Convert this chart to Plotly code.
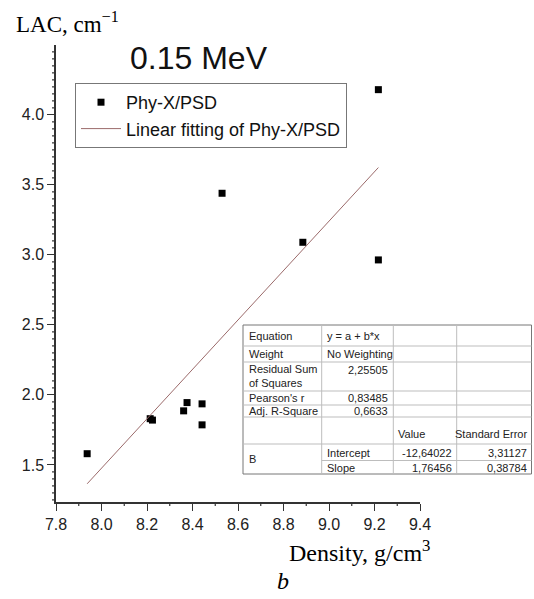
import numpy as np
import plotly.graph_objects as go

# ---- data ----
density = [7.937, 8.214, 8.224, 8.361, 8.376, 8.442, 8.442, 8.530, 8.885, 9.217, 9.217]
lac = [1.580, 1.830, 1.820, 1.886, 1.945, 1.936, 1.786, 3.440, 3.090, 4.180, 2.964]
fit_intercept = -12.64022
fit_slope = 1.76456

table_rows = [
    ("Equation", "y = a + b*x", "", ""),
    ("Weight", "No Weighting", "", ""),
    ("Residual Sum<br>of Squares", "2,25505", "", ""),
    ("Pearson's r", "0,83485", "", ""),
    ("Adj. R-Square", "0,6633", "", ""),
    ("", "", "Value", "Standard Error"),
    ("B", "Intercept", "-12,64022", "3,31127"),
    ("", "Slope", "1,76456", "0,38784"),
]

X_RANGE = [7.8, 9.4]
Y_RANGE = [1.235, 4.499]

# ---- layout geometry (pixels) ----
W, Hh = 534, 599
L, R, T, B = 56, 420, 45, 502


def px(x):
    return (x - L) / (R - L)


def py(y):
    return (B - y) / (B - T)


fx = np.array([min(density), max(density)])
fy = fit_intercept + fit_slope * fx

fig = go.Figure()
fig.add_trace(go.Scatter(
    x=density, y=lac, mode="markers", name="Phy-X/PSD",
    marker=dict(symbol="square", size=7, color="black"),
))
fig.add_trace(go.Scatter(
    x=fx, y=fy, mode="lines", name="Linear fitting of Phy-X/PSD",
    line=dict(color="#9b6a6a", width=1),
))

axis_font = dict(family="Liberation Sans, Arial", size=16, color="#222")
fig.update_xaxes(
    range=X_RANGE, tickmode="linear", tick0=7.8, dtick=0.2, tickformat=".1f",
    showline=True, linecolor="#333", linewidth=1.5, mirror=False,
    ticks="outside", ticklen=7, tickcolor="#333", tickwidth=1.3,
    showgrid=False, zeroline=False, tickfont=axis_font,
)
fig.update_yaxes(
    range=Y_RANGE, tickmode="linear", tick0=0, dtick=0.5, tickformat=".1f",
    showline=True, linecolor="#333", linewidth=1.5, mirror=False,
    ticks="outside", ticklen=7, tickcolor="#333", tickwidth=1.3,
    showgrid=False, zeroline=False, tickfont=axis_font,
)

shapes = []
annotations = []

# minor ticks (axis decoration, in paper coordinates of the axis ranges)
tick_line = dict(color="#333", width=1.2)
for i in range(int(round((X_RANGE[1] - X_RANGE[0]) / 0.1)) + 1):
    if i % 2 == 1:
        v = X_RANGE[0] + i * 0.1
        xp = (v - X_RANGE[0]) / (X_RANGE[1] - X_RANGE[0])
        shapes.append(dict(type="line", xref="paper", yref="paper", x0=xp, x1=xp,
                           y0=0, y1=-4 / (B - T), line=tick_line, layer="above"))
for i in range(int(np.ceil(Y_RANGE[0] / 0.05)), int(np.floor(Y_RANGE[1] / 0.05)) + 1):
    if i % 10 != 0:
        v = i * 0.05
        yp = (v - Y_RANGE[0]) / (Y_RANGE[1] - Y_RANGE[0])
        shapes.append(dict(type="line", xref="paper", yref="paper", x0=0, x1=-4 / (R - L),
                           y0=yp, y1=yp, line=tick_line, layer="above"))

# table
tx0, tx1, tx2, tx3, tx4 = 243, 321.7, 393.3, 456.7, 531.5
ty = [325, 346, 362, 391, 405, 417, 444, 460.5, 474]
shapes.append(dict(type="rect", xref="paper", yref="paper",
                   x0=px(tx0), x1=px(tx4), y0=py(ty[-1]), y1=py(ty[0]),
                   fillcolor="white", line=dict(color="#777", width=1), layer="above"))
inner = dict(color="#bdbdbd", width=1)
for yy in ty[1:7]:
    shapes.append(dict(type="line", xref="paper", yref="paper",
                       x0=px(tx0), x1=px(tx4), y0=py(yy), y1=py(yy), line=inner, layer="above"))
shapes.append(dict(type="line", xref="paper", yref="paper",
                   x0=px(tx1), x1=px(tx4), y0=py(ty[7]), y1=py(ty[7]), line=inner, layer="above"))
for xx in (tx1, tx2, tx3):
    shapes.append(dict(type="line", xref="paper", yref="paper",
                       x0=px(xx), x1=px(xx), y0=py(ty[0]), y1=py(ty[-1]), line=inner, layer="above"))

tfont = dict(family="Liberation Sans, Arial", size=11, color="#222")
row_y = [336, 354, 376.5, 398, 411, 434, 452.5, 467.5]


def numeric(s):
    return s[:1].isdigit() or s[:1] == "-"


for (c1, c2, c3, c4), yy in zip(table_rows, row_y):
    if c1:
        yc = 459 if c1 == "B" else yy
        annotations.append(dict(text=c1, x=px(tx0 + 4), y=py(yc), xref="paper", yref="paper",
                                xanchor="left", yanchor="middle", showarrow=False, font=tfont, align="left"))
    if c2:
        if numeric(c2):
            yc = 370 if "Residual" in c1 else yy
            annotations.append(dict(text=c2, x=px(tx2 - 3), y=py(yc), xref="paper", yref="paper",
                                    xanchor="right", yanchor="middle", showarrow=False, font=tfont))
        else:
            annotations.append(dict(text=c2, x=px(tx1 + 3), y=py(yy), xref="paper", yref="paper",
                                    xanchor="left", yanchor="middle", showarrow=False, font=tfont))
    if c3:
        if numeric(c3):
            annotations.append(dict(text=c3, x=px(tx3 - 3), y=py(yy), xref="paper", yref="paper",
                                    xanchor="right", yanchor="middle", showarrow=False, font=tfont))
        else:
            annotations.append(dict(text=c3, x=px(tx2 + 3), y=py(yy), xref="paper", yref="paper",
                                    xanchor="left", yanchor="middle", showarrow=False, font=tfont))
    if c4:
        annotations.append(dict(text=c4, x=px(tx4 - 3), y=py(yy), xref="paper", yref="paper",
                                xanchor="right", yanchor="middle", showarrow=False, font=tfont))

# titles
annotations.append(dict(text="LAC, cm<sup>−1</sup>", x=px(14), y=py(22), xref="paper", yref="paper",
                        xanchor="left", yanchor="middle", showarrow=False,
                        font=dict(family="Liberation Serif, Times New Roman", size=23, color="black")))
annotations.append(dict(text="0.15 MeV", x=px(199), y=py(58), xref="paper", yref="paper",
                        xanchor="center", yanchor="middle", showarrow=False,
                        font=dict(family="Liberation Sans, Arial", size=32, color="#111")))
annotations.append(dict(text="Density, g/cm<sup>3</sup>", x=px(359), y=py(551), xref="paper", yref="paper",
                        xanchor="center", yanchor="middle", showarrow=False,
                        font=dict(family="Liberation Serif, Times New Roman", size=24, color="black")))
annotations.append(dict(text="<i>b</i>", x=px(283), y=py(581), xref="paper", yref="paper",
                        xanchor="center", yanchor="middle", showarrow=False,
                        font=dict(family="Liberation Serif, Times New Roman", size=24, color="black")))

fig.update_layout(
    width=W, height=Hh,
    margin=dict(l=L, r=W - R, t=T, b=Hh - B),
    paper_bgcolor="white", plot_bgcolor="white",
    showlegend=True,
    legend=dict(x=px(75), y=py(83), xanchor="left", yanchor="top",
                bordercolor="#777", borderwidth=1, bgcolor="white",
                font=dict(family="Liberation Sans, Arial", size=18, color="#111"),
                itemwidth=40, tracegroupgap=0),
    shapes=shapes, annotations=annotations,
)

fig.write_html("out.html")
